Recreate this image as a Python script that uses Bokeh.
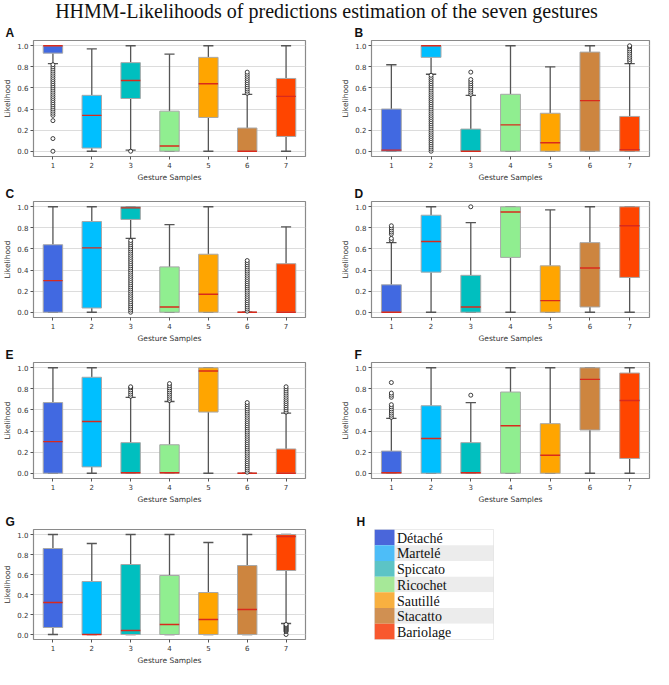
from bokeh.plotting import figure
from bokeh.models import Range1d, FixedTicker, Div, PrintfTickFormatter
from bokeh.layouts import column, row
from bokeh.embed import file_html
from bokeh.resources import INLINE
from bokeh.core.properties import value

TITLE = "HHMM-Likelihoods of predictions estimation of the seven gestures"
GESTURES = [1, 2, 3, 4, 5, 6, 7]
NAMES = ["Détaché", "Martelé", "Spiccato", "Ricochet", "Sautillé", "Stacatto", "Bariolage"]
BOX_COLORS = ["#4169E1", "#00BFFF", "#00BFBF", "#90EE90", "#FFA500", "#CD853F", "#FF4500"]
LEGEND_COLORS = ["#4a66da", "#4dbdf8", "#5cc4c6", "#a6e898", "#f8b040", "#d09052", "#f8582e"]
Y_TICKS = [0.0, 0.2, 0.4, 0.6, 0.8, 1.0]

# ---- Panel A ----
A_Q1 = [0.93, 0.03, 0.50, 0.00, 0.32, 0.00, 0.14]
A_MED = [1.00, 0.34, 0.67, 0.05, 0.64, 0.00, 0.52]
A_Q3 = [1.00, 0.53, 0.84, 0.38, 0.89, 0.22, 0.69]
A_LO = [0.83, 0.00, 0.01, 0.00, 0.00, 0.00, 0.00]
A_HI = [1.00, 0.97, 1.00, 0.92, 1.00, 0.54, 1.00]
A_OUT = {
    1: [0.00, 0.12, 0.29, 0.34, 0.36, 0.38, 0.40, 0.42, 0.44, 0.46, 0.48, 0.50, 0.52, 0.54,
        0.56, 0.58, 0.60, 0.62, 0.64, 0.66, 0.68, 0.70, 0.72, 0.74, 0.76, 0.78, 0.80, 0.82],
    3: [0.00],
    6: [0.55, 0.57, 0.59, 0.61, 0.63, 0.65, 0.67, 0.69, 0.71, 0.73, 0.75],
}

# ---- Panel B ----
B_Q1 = [0.00, 0.89, 0.00, 0.00, 0.00, 0.00, 0.00]
B_MED = [0.01, 1.00, 0.00, 0.25, 0.08, 0.48, 0.015]
B_Q3 = [0.40, 1.00, 0.21, 0.54, 0.36, 0.94, 0.33]
B_LO = [0.00, 0.73, 0.00, 0.00, 0.00, 0.00, 0.00]
B_HI = [0.82, 1.00, 0.53, 1.00, 0.80, 1.00, 0.83]
B_OUT = {
    2: [0.00, 0.02, 0.04, 0.06, 0.08, 0.10, 0.12, 0.14, 0.16, 0.18, 0.20, 0.22, 0.24, 0.26,
        0.28, 0.30, 0.32, 0.34, 0.36, 0.38, 0.40, 0.42, 0.44, 0.46, 0.48, 0.50, 0.52, 0.54,
        0.56, 0.58, 0.60, 0.62, 0.64, 0.66, 0.68, 0.70, 0.72],
    3: [0.54, 0.56, 0.58, 0.60, 0.62, 0.64, 0.66, 0.68, 0.75],
    7: [0.85, 0.87, 0.89, 0.91, 0.93, 0.95, 0.97, 0.99, 1.00],
}

# ---- Panel C ----
C_Q1 = [0.00, 0.04, 0.88, 0.00, 0.00, 0.00, 0.00]
C_MED = [0.30, 0.61, 0.99, 0.05, 0.17, 0.00, 0.00]
C_Q3 = [0.64, 0.86, 1.00, 0.43, 0.55, 0.00, 0.46]
C_LO = [0.00, 0.00, 0.70, 0.00, 0.00, 0.00, 0.00]
C_HI = [1.00, 1.00, 1.00, 0.83, 1.00, 0.00, 0.81]
C_OUT = {
    3: [0.00, 0.02, 0.04, 0.06, 0.08, 0.10, 0.12, 0.14, 0.16, 0.18, 0.20, 0.22, 0.24, 0.26,
        0.28, 0.30, 0.32, 0.34, 0.36, 0.38, 0.40, 0.42, 0.44, 0.46, 0.48, 0.50, 0.52, 0.54,
        0.56, 0.58, 0.60, 0.62, 0.64, 0.66, 0.68],
    6: [0.01, 0.03, 0.05, 0.07, 0.09, 0.11, 0.13, 0.15, 0.17, 0.19, 0.21, 0.23, 0.25, 0.27,
        0.29, 0.31, 0.33, 0.35, 0.37, 0.39, 0.41, 0.43, 0.45, 0.47, 0.49],
}

# ---- Panel D ----
D_Q1 = [0.00, 0.38, 0.00, 0.52, 0.00, 0.05, 0.33]
D_MED = [0.00, 0.67, 0.05, 0.95, 0.11, 0.42, 0.82]
D_Q3 = [0.26, 0.92, 0.35, 1.00, 0.44, 0.66, 1.00]
D_LO = [0.00, 0.00, 0.00, 0.00, 0.00, 0.00, 0.00]
D_HI = [0.66, 1.00, 0.85, 1.00, 0.97, 1.00, 1.00]
D_OUT = {
    1: [0.68, 0.70, 0.74, 0.76, 0.78, 0.80, 0.82],
    3: [1.00],
}

# ---- Panel E ----
E_Q1 = [0.00, 0.06, 0.00, 0.00, 0.58, 0.00, 0.00]
E_MED = [0.30, 0.49, 0.005, 0.005, 0.97, 0.00, 0.00]
E_Q3 = [0.67, 0.91, 0.29, 0.27, 1.00, 0.00, 0.23]
E_LO = [0.00, 0.00, 0.00, 0.00, 0.00, 0.00, 0.00]
E_HI = [1.00, 1.00, 0.72, 0.68, 1.00, 0.00, 0.57]
E_OUT = {
    3: [0.73, 0.75, 0.77, 0.79, 0.81, 0.82],
    4: [0.69, 0.71, 0.73, 0.75, 0.77, 0.79, 0.81, 0.83, 0.85],
    6: [0.01, 0.03, 0.05, 0.07, 0.09, 0.11, 0.13, 0.15, 0.17, 0.19, 0.21, 0.23, 0.25, 0.27,
        0.29, 0.31, 0.33, 0.35, 0.37, 0.39, 0.41, 0.43, 0.45, 0.47, 0.49, 0.51, 0.53, 0.55,
        0.57, 0.59, 0.61, 0.63, 0.65, 0.67],
    7: [0.58, 0.60, 0.62, 0.64, 0.66, 0.68, 0.70, 0.72, 0.74, 0.76, 0.78, 0.80, 0.82],
}

# ---- Panel F ----
F_Q1 = [0.00, 0.00, 0.00, 0.00, 0.00, 0.41, 0.14]
F_MED = [0.005, 0.33, 0.005, 0.45, 0.17, 0.89, 0.69]
F_Q3 = [0.21, 0.64, 0.29, 0.77, 0.47, 1.00, 0.95]
F_LO = [0.00, 0.00, 0.00, 0.00, 0.00, 0.00, 0.00]
F_HI = [0.52, 1.00, 0.67, 1.00, 1.00, 1.00, 1.00]
F_OUT = {
    1: [0.53, 0.55, 0.57, 0.59, 0.61, 0.63, 0.65, 0.72, 0.74, 0.76, 0.86],
    3: [0.74],
}

# ---- Panel G ----
G_Q1 = [0.07, 0.00, 0.00, 0.00, 0.00, 0.00, 0.64]
G_MED = [0.32, 0.00, 0.04, 0.10, 0.15, 0.25, 0.98]
G_Q3 = [0.86, 0.53, 0.70, 0.59, 0.42, 0.69, 1.00]
G_LO = [0.00, 0.00, 0.00, 0.00, 0.00, 0.00, 0.11]
G_HI = [1.00, 0.91, 1.00, 1.00, 0.92, 1.00, 1.00]
G_OUT = {
    7: [0.00, 0.03, 0.04, 0.05, 0.06, 0.07, 0.08, 0.09, 0.10],
}

ROW_H = 161
W_L, W_R = 327, 326
TITLE_H = 23
MED_COLOR = "#d92a1c"
WHISK = "#555555"


def style_title(p, off):
    p.title.align = "left"
    p.title.offset = off
    p.title.standoff = 1
    p.title.text_font = "Liberation Sans"
    p.title.text_font_size = "12px"
    p.title.text_font_style = "bold"
    p.title.text_color = "#111111"


def make_panel(label, q1, med, q3, lo, hi, out, left_col):
    if left_col:
        bl, br, off, w = 28, 22, -28, W_L
    else:
        bl, br, off, w = 44, 4, -17, W_R
    p = figure(width=w, height=ROW_H, x_range=Range1d(0.5, 7.5), y_range=Range1d(-0.05, 1.05),
               output_backend="svg", toolbar_location=None, tools="",
               min_border_left=bl, min_border_right=br, min_border_top=15, min_border_bottom=24,
               title=label)
    style_title(p, off)

    p.outline_line_color = "#8a8a8a"
    p.outline_line_width = 1.2
    p.xgrid.grid_line_color = None
    p.ygrid.grid_line_color = "#dcdcdc"
    p.ygrid.grid_line_width = 1

    for ax in (p.xaxis[0], p.yaxis[0]):
        ax.axis_line_color = None
        ax.major_tick_out = 3
        ax.major_tick_in = 0
        ax.minor_tick_line_color = None
        ax.major_tick_line_color = "#555555"
        ax.major_label_text_font = "DejaVu Sans"
        ax.major_label_text_font_size = "7px"
        ax.major_label_text_color = "#333333"
        ax.major_label_standoff = 2
        ax.axis_label_text_font = "DejaVu Sans"
        ax.axis_label_text_font_size = "7.5px"
        ax.axis_label_text_font_style = "normal"
        ax.axis_label_text_color = "#333333"
        ax.axis_label_standoff = 2
    p.xaxis.ticker = FixedTicker(ticks=GESTURES)
    p.yaxis.ticker = FixedTicker(ticks=Y_TICKS)
    p.yaxis.formatter = PrintfTickFormatter(format="%.1f")
    p.xaxis.axis_label = "Gesture Samples"
    p.yaxis.axis_label = "Likelihood"

    x = GESTURES
    xl = [g - 0.13 for g in x]
    xr = [g + 0.13 for g in x]
    # whiskers
    p.segment(x0=x, y0=lo, x1=x, y1=q1, line_color=WHISK, line_width=1.3)
    p.segment(x0=x, y0=q3, x1=x, y1=hi, line_color=WHISK, line_width=1.3)
    # caps
    p.segment(x0=xl, y0=lo, x1=xr, y1=lo, line_color=WHISK, line_width=1.3)
    p.segment(x0=xl, y0=hi, x1=xr, y1=hi, line_color=WHISK, line_width=1.3)
    # boxes
    p.vbar(x=x, bottom=q1, top=q3, width=0.5, fill_color=BOX_COLORS,
           line_color="#a8a8a8", line_width=1)
    # medians
    p.segment(x0=[g - 0.25 for g in x], y0=med, x1=[g + 0.25 for g in x], y1=med,
              line_color=MED_COLOR, line_width=1.4)
    # outliers
    ox, oy = [], []
    for g, vals in out.items():
        ox += [g] * len(vals)
        oy += vals
    if ox:
        p.scatter(x=ox, y=oy, marker="circle", size=4, fill_color="white",
                  line_color="#111111", line_width=0.8)
    return p


pA = make_panel("A", A_Q1, A_MED, A_Q3, A_LO, A_HI, A_OUT, True)
pB = make_panel("B", B_Q1, B_MED, B_Q3, B_LO, B_HI, B_OUT, False)
pC = make_panel("C", C_Q1, C_MED, C_Q3, C_LO, C_HI, C_OUT, True)
pD = make_panel("D", D_Q1, D_MED, D_Q3, D_LO, D_HI, D_OUT, False)
pE = make_panel("E", E_Q1, E_MED, E_Q3, E_LO, E_HI, E_OUT, True)
pF = make_panel("F", F_Q1, F_MED, F_Q3, F_LO, F_HI, F_OUT, False)
pG = make_panel("G", G_Q1, G_MED, G_Q3, G_LO, G_HI, G_OUT, True)

# ---- Legend panel H ----
pH = figure(width=W_R, height=ROW_H, x_range=Range1d(0, 5.95), y_range=Range1d(7, 0),
            output_backend="svg", toolbar_location=None, tools="",
            x_axis_location=None, y_axis_location=None,
            min_border_left=47, min_border_right=160, min_border_top=23, min_border_bottom=7,
            title="H")
style_title(pH, -18)
pH.grid.visible = False
pH.outline_line_color = "#e4e4e4"
rows_idx = list(range(len(NAMES)))
row_bg = ["#ffffff" if i % 2 == 0 else "#ececec" for i in rows_idx]
pH.quad(left=[1] * len(NAMES), right=[5.95] * len(NAMES), top=rows_idx,
        bottom=[i + 1 for i in rows_idx], fill_color=row_bg, line_color=None)
pH.quad(left=[0] * len(NAMES), right=[1] * len(NAMES), top=rows_idx,
        bottom=[i + 1 for i in rows_idx], fill_color=LEGEND_COLORS, line_color=None)
pH.text(x=[1.12] * len(NAMES), y=[i + 0.55 for i in rows_idx], text=NAMES,
        text_font=value("Liberation Serif"), text_font_size="14px",
        text_baseline="middle", text_align="left", text_color="#111111")

title_div = Div(text=f'<div style="width:{W_L + W_R}px;text-align:center;'
                     f'font-family:\'Liberation Serif\',serif;font-size:20px;line-height:{TITLE_H}px;'
                     f'color:#111;white-space:nowrap;">{TITLE}</div>',
                width=W_L + W_R, height=TITLE_H, margin=(0, 0, 0, 0))

layout = column(title_div,
                row(pA, pB, spacing=0),
                row(pC, pD, spacing=0),
                row(pE, pF, spacing=0),
                row(pG, pH, spacing=0),
                spacing=0)

open("out.html", "w").write(file_html(layout, INLINE))
